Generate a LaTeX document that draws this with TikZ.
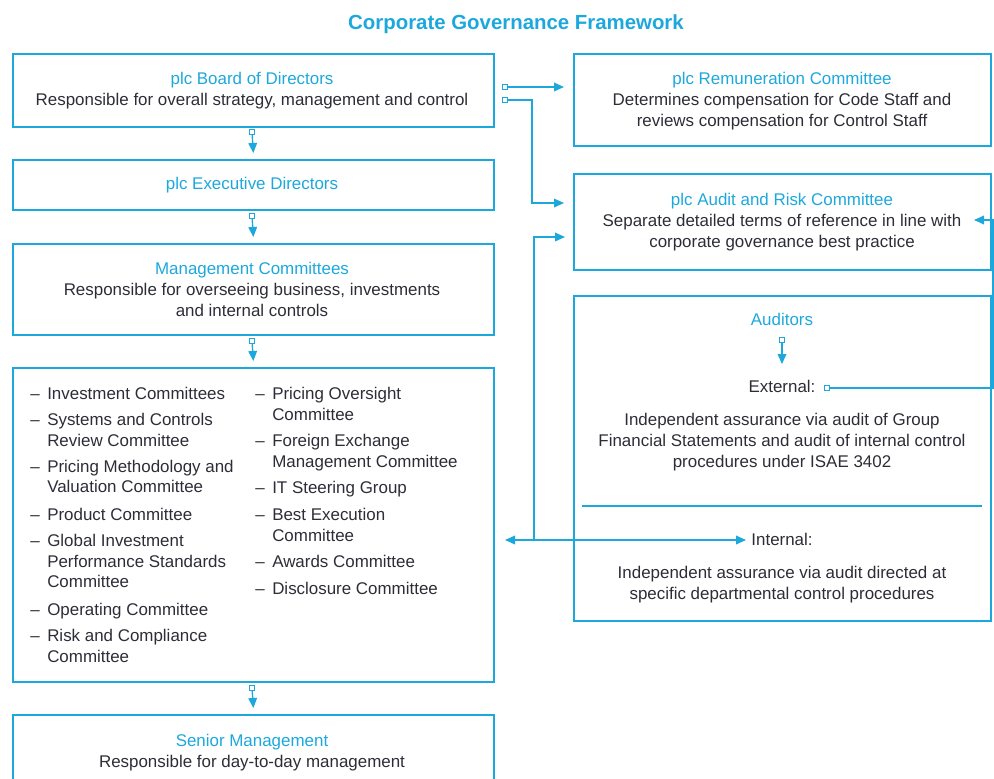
\documentclass[tikz,border=0pt]{standalone}
\usepackage{fontspec}
\setmainfont{Liberation Sans}
\usetikzlibrary{arrows.meta}
\definecolor{cy}{RGB}{28,168,221}
\definecolor{ink}{RGB}{45,45,55}
\tikzset{
 box/.style={draw=cy, line width=1.3pt, anchor=north west, inner sep=0, rectangle},
 txt/.style={font=\fontsize{12.7}{15}\selectfont, text=ink, inner sep=0, anchor=base},
 ttl/.style={txt, text=cy},
 lt/.style={txt, anchor=base west},
 conn/.style={draw=cy, line width=1pt},
 tip/.style={-{Triangle[length=7.5pt,width=6.5pt]}},
 tips/.style={{Triangle[length=7.5pt,width=6.5pt]}-{Triangle[length=7.5pt,width=6.5pt]}},
 mk/.style={draw=cy, fill=white, line width=0.8pt, minimum size=3.6pt, inner sep=0, rectangle},
}
\begin{document}
\begin{tikzpicture}[x=0.75pt,y=-0.75pt]
\clip (0,0) rectangle (994,778);
\node[font=\bfseries\fontsize{15.3}{18}\selectfont, text=cy, inner sep=0, anchor=base] (title) at (516,29) {Corporate Governance Framework};

% boxes
\node[box, minimum width={481*0.75pt}, minimum height={73*0.75pt}] (board) at (12,53) {};
\node[box, minimum width={481*0.75pt}, minimum height={50*0.75pt}] (exec) at (12,159) {};
\node[box, minimum width={481*0.75pt}, minimum height={91*0.75pt}] (mgmt) at (12,243) {};
\node[box, minimum width={481*0.75pt}, minimum height={314*0.75pt}] (list) at (12,367) {};
\node[box, minimum width={481*0.75pt}, minimum height={90*0.75pt}] (senior) at (12,714) {};
\node[box, minimum width={417*0.75pt}, minimum height={92*0.75pt}] (remun) at (573,53) {};
\node[box, minimum width={417*0.75pt}, minimum height={96*0.75pt}] (audit) at (573,173) {};
\node[box, minimum width={417*0.75pt}, minimum height={325*0.75pt}] (auditors) at (573,295) {};
\draw[cy, line width=1pt] (582,506) -- (982,506);

% texts
\node[ttl] (t1) at (252,84) {plc Board of Directors};
\node[txt] (t2) at (252,105) {Responsible for overall strategy, management and control};
\node[ttl] (t3) at (252,189) {plc Executive Directors};
\node[ttl] (t4) at (252,274) {Management Committees};
\node[txt] (t5) at (252,295) {Responsible for overseeing business, investments};
\node[txt] (t6) at (252,316) {and internal controls};
\node[ttl] (t7) at (252,746) {Senior Management};
\node[txt] (t8) at (252,767) {Responsible for day-to-day management};
\node[ttl] (t9) at (782,84) {plc Remuneration Committee};
\node[txt] (t10) at (782,105) {Determines compensation for Code Staff and};
\node[txt] (t11) at (782,126) {reviews compensation for Control Staff};
\node[ttl] (t12) at (782,205) {plc Audit and Risk Committee};
\node[txt] (t13) at (782,226) {Separate detailed terms of reference in line with};
\node[txt] (t14) at (782,247) {corporate governance best practice};
\node[ttl] (t15) at (782,325) {Auditors};
\node[txt] (t16) at (782,392) {External:};
\node[txt] (t17) at (782,425) {Independent assurance via audit of Group};
\node[txt] (t18) at (782,446) {Financial Statements and audit of internal control};
\node[txt] (t19) at (782,467) {procedures under ISAE 3402};
\node[txt] (t20) at (782,545) {Internal:};
\node[txt] (t21) at (782,578) {Independent assurance via audit directed at};
\node[txt] (t22) at (782,599) {specific departmental control procedures};

% list
\foreach \t/\y [count=\i] in {Investment Committees/394, Systems and Controls/420, Review Committee/441, Pricing Methodology and/467, Valuation Committee/487, Product Committee/515, Global Investment/541, Performance Standards/562, Committee/582, Operating Committee/610, Risk and Compliance/636, Committee/657}
  \node[lt] (la\i) at (47,\y+5) {\t};
\foreach \y [count=\i] in {394,420,467,515,541,610,636}
  \node[lt] (da\i) at (30,\y+5) {--};
\foreach \t/\y [count=\i] in {Pricing Oversight/394, Committee/415, Foreign Exchange/441, Management Committee/462, IT Steering Group/488, Best Execution/515, Committee/536, Awards Committee/562, Disclosure Committee/589}
  \node[lt] (lb\i) at (272,\y+5) {\t};
\foreach \y [count=\i] in {394,441,488,515,562,589}
  \node[lt] (db\i) at (255,\y+5) {--};

% vertical connectors left
\node[mk] (mb1) at (252,132) {};
\node[mk] (mb2) at (252,216) {};
\node[mk] (mb3) at (252,341) {};
\node[mk] (mb4) at (252,688) {};
\draw[conn,tip] (mb1) -- ([yshift=4.5pt]exec.north);
\draw[conn,tip] (mb2) -- ([yshift=4.5pt]mgmt.north);
\draw[conn,tip] (mb3) -- ([yshift=4.5pt]list.north);
\draw[conn,tip] (mb4) -- ([yshift=4.5pt]senior.north);

% board to right
\node[mk] (m1) at (505,87) {};
\node[mk] (m2) at (505,100) {};
\coordinate (e1) at (564,87);
\coordinate (e2) at (564,203);
\draw[conn,tip] (m1) -- (e1);
\draw[conn,tip] (m2) -- (532,100) -- (532,203) -- (e2);

% internal
\coordinate (il) at (505,540);
\coordinate (ir) at (746,540);
\coordinate (ia) at (565,237);
\draw[conn,tips] (il) -- (ir);
\draw[conn,tip] (534,540) -- (534,237) -- (ia);

% auditors
\node[mk] (ma) at (782,340) {};
\coordinate (mae) at (782,364);
\draw[conn,tip] (ma) -- (mae);

% external
\node[mk] (mx) at (827,388) {};
\coordinate (xe) at (974,220);
\draw[conn,tip] (mx) -- (993,388) -- (993,220) -- (xe);
\end{tikzpicture}
\end{document}
